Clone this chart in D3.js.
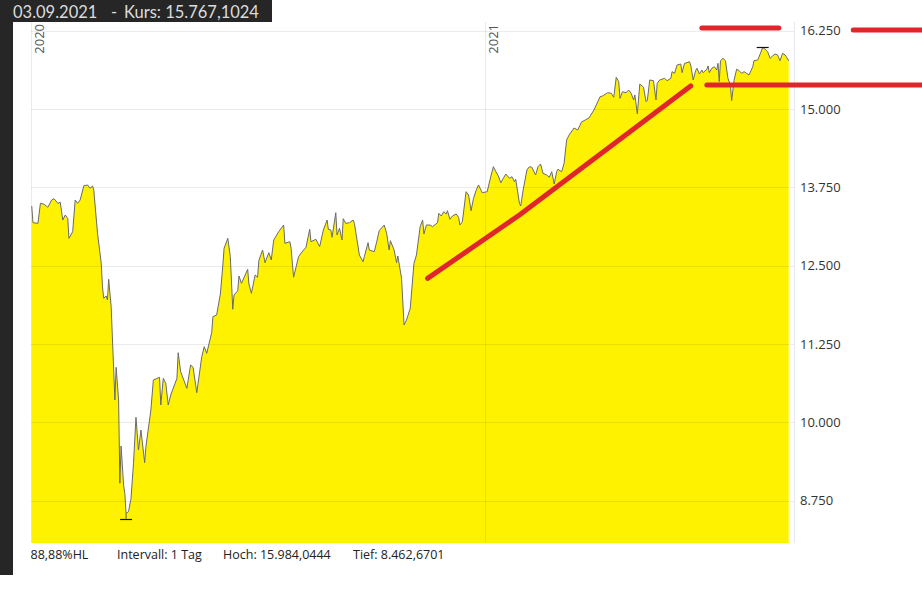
<!DOCTYPE html>
<html><head><meta charset="utf-8">
<script src="https://cdn.jsdelivr.net/npm/d3@7"></script>
<style>html,body{margin:0;padding:0;background:#fff;} svg{display:block}</style>
</head><body>
<svg id="c" width="922" height="589"></svg>
<script>
// ---------- data ----------
const startDate = "2020-01-01";
const dayOffsets = [1,2,6,8,11,14,17,19,22,24,26,28,30,31,34,36,38,40,43,46,48,50,51,54,57,58,59,61,62,63,65,68,69,71,72,73,75,76,77,79,81,83,85,87,89,92,93,97,99,104,105,107,109,111,113,118,119,121,126,129,131,134,138,140,142,146,147,150,153,155,156,159,161,163,164,167,168,170,175,176,178,181,183,184,187,189,192,194,196,200,204,205,209,210,212,216,220,222,225,226,230,233,236,239,240,242,243,246,247,249,251,252,254,257,260,261,265,268,269,272,273,277,279,281,285,287,289,290,293,295,296,299,301,303,306,309,311,314,316,317,319,322,324,328,329,331,333,335,336,338,340,343,345,346,348,351,353,355,357,359,361,364,368,371,373,375,377,379,381,383,386,388,390,391,394,395,397,400,402,404,407,409,411,413,416,418,420,422,424,425,428,430,432,434,438,441,444,447,450,454,459,461,465,468,470,472,474,475,477,480,482,484,486,487,489,491,494,496,497,499,502,504,505,507,511,513,516,517,519,521,524,525,527,529,531,532,534,536,537,539,541,542,545,546,547,549,551,553,554,555,556,558,560,562,564,565,567,569,571,573,575,577,579,582,583,586,588,590,592,594,596,598,600,602,604,606,608,609,611];
const closes = [13452,13185,13175,13495,13479,13431,13547,13568,13495,13510,13228,13308,13255,12936,13042,13547,13495,13547,13775,13787,13734,13771,13707,13016,12537,12164,11979,12016,11952,12282,11845,10357,10878,10357,9028,9623,9000,8868,8549,8575,8789,9347,10081,9559,9878,9357,9612,10197,10676,10718,10277,10702,10622,10277,10436,10702,11111,10808,10543,10915,10878,10473,11047,11207,11101,11431,11686,11713,12048,12510,12777,12936,12643,11804,12032,12100,12335,12218,12441,12207,12058,12351,12314,12579,12749,12547,12707,12590,12909,13042,13148,12856,12882,12777,12314,12643,12749,12793,13080,12882,12920,12803,13069,13228,13080,13069,12952,13345,12989,13096,12909,13249,13175,13185,13228,13175,12670,12563,12643,12867,12749,12723,12882,13058,13148,13016,12749,12899,12749,12547,12654,12298,11553,11633,11819,12537,12670,13122,13228,13005,13148,13148,13122,13185,13335,13292,13361,13324,13377,13239,13292,13324,13271,13148,13201,13680,13627,13377,13574,13696,13787,13664,13680,13930,14079,13999,13930,13823,13894,13962,13894,13919,13839,13878,13495,13452,13707,14026,14079,14069,13946,14079,14122,13973,13946,13910,13999,13803,13999,14037,13999,14133,14505,14584,14696,14664,14792,14824,14856,14983,15196,15207,15259,15250,15186,15505,15435,15170,15275,15259,15302,15250,15143,15223,14920,15398,15345,15116,15132,15462,15451,15143,15409,15462,15489,15451,15489,15595,15569,15701,15717,15579,15728,15738,15754,15701,15462,15611,15649,15558,15621,15579,15633,15685,15579,15649,15674,15621,15728,15435,15770,15808,15770,15489,15382,15132,15462,15633,15611,15569,15595,15569,15542,15674,15770,15781,15877,15983,15952,15913,15808,15845,15877,15861,15770,15888,15861,15834,15767];
const yTicks = [8750, 10000, 11250, 12500, 13750, 15000, 16250];
const yearTicks = ["2020-01-01", "2021-01-01"];
const lastDate = "2021-09-03";
const lastPrice = 15767.1024;
const highValue = 15984.0444;
const lowValue = 8462.6701;
const hlPercent = 88.88;
const intervalLabel = "1 Tag";
// hand-drawn red annotations: [dayOffset, value]
const trendLine = [[320,12297],[394,13308],[532,15366]];
const levelLine1 = [[545,15382],[718,15382]];
const levelLine2 = [[541,16291],[603,16291]];
const levelLine3 = [[663,16260],[718,16260]];

// ---------- setup ----------
const svg = d3.select("#c");
const W = 922, H = 589;
const plot = {left: 31, right: 790, top: 22, bottom: 543};
const de = d3.formatLocale({decimal: ",", thousands: ".", grouping: [3], currency: ["", " €"]});
const fmt4 = de.format(",.4f");
const fmt2 = de.format(".2f");

const t0 = new Date(startDate + "T00:00:00Z");
const dayToDate = d => new Date(t0.getTime() + d * 86400000);
const data = dayOffsets.map((d, i) => ({date: dayToDate(d), v: closes[i]}));

const x = d3.scaleUtc()
  .domain([new Date("2020-01-01T00:00:00Z"), new Date("2021-01-01T00:00:00Z")])
  .range([30.5, 484.7]);
const y = d3.scaleLinear().domain([8750, 16250]).range([500.7, 30.6]);

// background
svg.append("rect").attr("width", W).attr("height", H).attr("fill", "#fff");

// area
const area = d3.area().x(d => x(d.date)).y0(plot.bottom).y1(d => y(d.v));
svg.append("path").datum(data).attr("d", area).attr("fill", "#fff200");

// gridlines
svg.append("g").selectAll("line").data(yTicks).join("line")
  .attr("x1", plot.left).attr("x2", 794)
  .attr("y1", d => Math.round(y(d)) + 0.5).attr("y2", d => Math.round(y(d)) + 0.5)
  .attr("stroke", "rgba(0,0,0,0.08)");
svg.append("g").selectAll("line").data(yearTicks).join("line")
  .attr("x1", d => Math.round(x(new Date(d + "T00:00:00Z"))) + 0.5)
  .attr("x2", d => Math.round(x(new Date(d + "T00:00:00Z"))) + 0.5)
  .attr("y1", plot.top).attr("y2", plot.bottom)
  .attr("stroke", "rgba(0,0,0,0.08)");
svg.append("line").attr("x1", 794.5).attr("x2", 794.5).attr("y1", plot.top).attr("y2", plot.bottom)
  .attr("stroke", "#e4e8ee");

// price line
const line = d3.line().x(d => x(d.date)).y(d => y(d.v));
svg.append("path").datum(data).attr("d", line).attr("fill", "none")
  .attr("stroke", "#6a6a6a").attr("stroke-width", 1);

// high / low markers
const iMax = d3.maxIndex(data, d => d.v), iMin = d3.minIndex(data, d => d.v);
[[data[iMax], highValue], [data[iMin], lowValue]].forEach(([p, v]) => {
  const px = x(p.date);
  svg.append("line").attr("x1", px).attr("x2", px).attr("y1", y(p.v)).attr("y2", y(v))
    .attr("stroke", "#555").attr("stroke-width", 1);
  svg.append("line").attr("x1", px - 6).attr("x2", px + 6)
    .attr("y1", Math.round(y(v)) + 0.5).attr("y2", Math.round(y(v)) + 0.5)
    .attr("stroke", "#111").attr("stroke-width", 1.2);
});

// right axis labels
svg.append("g").selectAll("text").data(yTicks).join("text")
  .attr("x", 800).attr("y", d => y(d)).attr("dy", "0.36em")
  .attr("font-family", "'Open Sans', sans-serif").attr("font-size", 13)
  .attr("fill", "#333").text(d => de.format(",")(d));

// year labels (rotated)
svg.append("g").selectAll("text").data(yearTicks).join("text")
  .attr("transform", d => `translate(${x(new Date(d + "T00:00:00Z")) + 13.5},24) rotate(-90)`)
  .attr("text-anchor", "end")
  .attr("font-family", "'Open Sans', sans-serif").attr("font-size", 13)
  .attr("fill", "#555").text(d => d.slice(0, 4));

// red annotations
const annLine = d3.line().x(d => x(dayToDate(d[0]))).y(d => y(d[1]));
[trendLine, levelLine1, levelLine2, levelLine3].forEach(pts => {
  svg.append("path").attr("d", annLine(pts)).attr("fill", "none")
    .attr("stroke", "#e0252b").attr("stroke-width", 5)
    .attr("stroke-linecap", "round").attr("stroke-linejoin", "round");
});

// left dark bar & header
svg.append("rect").attr("x", 0).attr("y", 0).attr("width", 13).attr("height", 575).attr("fill", "#262626");
svg.append("rect").attr("x", 0).attr("y", 0).attr("width", 272).attr("height", 22).attr("fill", "#262626");
const ld = lastDate.split("-");
const hdr = svg.append("text").attr("y", 17.5)
  .attr("font-family", "Lato, sans-serif").attr("font-size", 16.5)
  .attr("fill", "#dcdcdc");
hdr.append("tspan").attr("x", 13).text(`${ld[2]}.${ld[1]}.${ld[0]}`);
hdr.append("tspan").attr("x", 111).text("-");
hdr.append("tspan").attr("x", 124).text(`Kurs: ${fmt4(lastPrice)}`);

// footer
const footer = [
  [30.5, `${fmt2(hlPercent)}%HL`],
  [117, `Intervall: ${intervalLabel}`],
  [223, `Hoch: ${fmt4(highValue)}`],
  [353, `Tief: ${fmt4(lowValue)}`]
];
svg.append("g").selectAll("text").data(footer).join("text")
  .attr("x", d => d[0]).attr("y", 559)
  .attr("font-family", "'Open Sans', sans-serif").attr("font-size", 12.5)
  .attr("fill", "#222").text(d => d[1]);
</script>
</body></html>
